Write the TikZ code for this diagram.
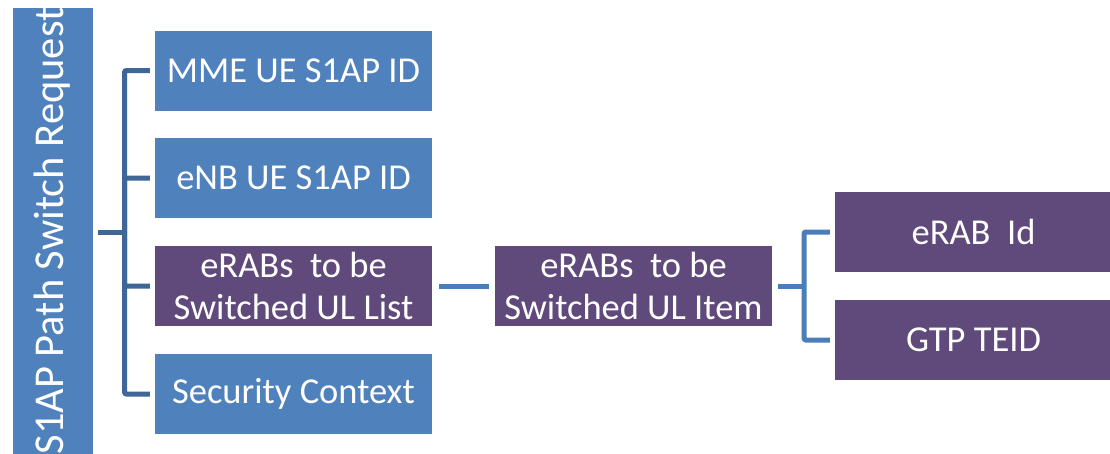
\documentclass[tikz,border=0pt]{standalone}
\usepackage{fontspec}
\setmainfont{Carlito}
\usepackage{tikz}

\definecolor{boxblue}{RGB}{79,129,189}
\definecolor{boxpurple}{RGB}{96,74,123}
\definecolor{treeblue}{RGB}{62,102,150}
\definecolor{linkblue}{RGB}{74,126,187}

\tikzset{
  ie/.style={rectangle, inner sep=0pt, minimum width=277pt, minimum height=80pt,
    text=white, align=center, font=\fontsize{36.5}{42}\selectfont},
  plainie/.style={ie, fill=boxblue},
  listie/.style={ie, fill=boxpurple},
  branch/.style={draw=treeblue, line width=5pt, rounded corners=2pt},
  link/.style={draw=linkblue, line width=5pt, rounded corners=2pt}
}

\begin{document}
\begin{tikzpicture}[x=1pt, y=-1pt]
  \clip (0,0) rectangle (1110,453);
  \fill[white] (0,0) rectangle (1110,453);

  % message on the left
  \node[fill=boxblue, minimum width=80pt, minimum height=448pt, inner sep=0pt] (req) at (53,232) {};
  \node[rotate=90, text=white, font=\fontsize{42.5}{48}\selectfont] (reqtext) at (52,231) {S1AP Path Switch Request};

  % first level
  \node[plainie] (mme) at (293.5,70.5) {MME UE S1AP ID};
  \node[plainie] (enb) at (293.5,178) {eNB UE S1AP ID};
  \node[listie] (erablist) at (293.5,286) {eRABs~~to be\\Switched UL List};
  \node[plainie] (secctx) at (293.5,394) {Security Context};

  % list item and its fields
  \node[listie] (erabitem) at (633.5,286) {eRABs~~to be\\Switched UL Item};
  \node[listie] (erabid) at (973.5,232) {eRAB~~Id};
  \node[listie] (teid) at (973.5,340) {GTP TEID};

  \coordinate (reqfork) at (124.5,232);
  \coordinate (itemfork) at (804,286);

  \draw[branch] ([xshift=5pt]req.east) -- (reqfork);
  \draw[branch] (reqfork) |- ([xshift=-5pt]mme.west);
  \draw[branch] (reqfork) |- ([xshift=-5pt]enb.west);
  \draw[branch] (reqfork) |- ([xshift=-5pt]erablist.west);
  \draw[branch] (reqfork) |- ([xshift=-5pt]secctx.west);

  \draw[link] ([xshift=7pt]erablist.east) -- ([xshift=-6pt]erabitem.west);

  \draw[link] ([xshift=6pt]erabitem.east) -- (itemfork);
  \draw[link] (itemfork) |- ([xshift=-5pt]erabid.west);
  \draw[link] (itemfork) |- ([xshift=-5pt]teid.west);
\end{tikzpicture}
\end{document}
